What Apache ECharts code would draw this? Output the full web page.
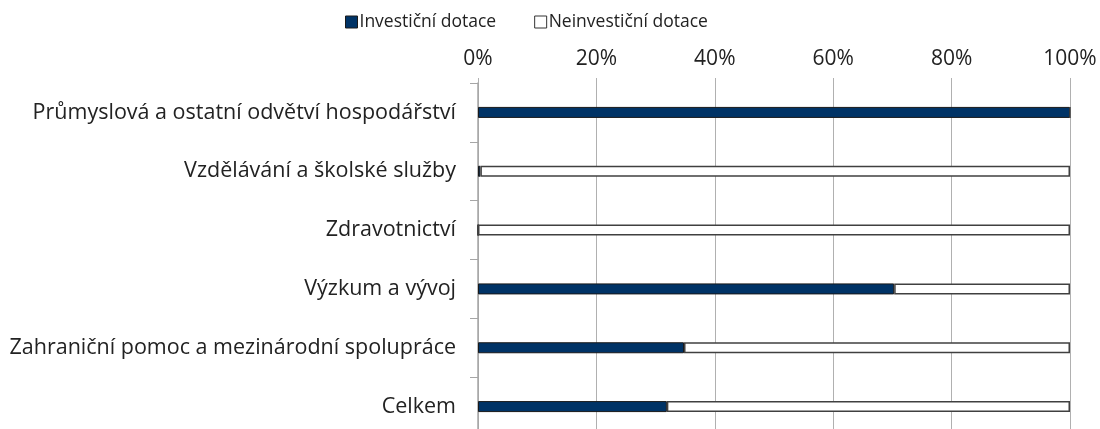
<!DOCTYPE html>
<html>
<head>
<meta charset="utf-8">
<script src="https://cdn.jsdelivr.net/npm/echarts@6/dist/echarts.min.js"></script>
<style>
  html, body { margin: 0; padding: 0; background: #fff; }
  #chart { width: 1100px; height: 429px; }
</style>
</head>
<body>
<div id="chart"></div>
<script>
const categories = [
  "Průmyslová a ostatní odvětví hospodářství",
  "Vzdělávání a školské služby",
  "Zdravotnictví",
  "Výzkum a vývoj",
  "Zahraniční pomoc a mezinárodní spolupráce",
  "Celkem"
];
const investicni = [100, 0.4, 0, 70.3, 34.8, 31.9];
const neinvesticni = [0, 99.6, 100, 29.7, 65.2, 68.1];

const font = "'Open Sans', sans-serif";
const chart = echarts.init(document.getElementById("chart"));

chart.setOption({
  animation: false,
  textStyle: { fontFamily: font },
  legend: {
    left: 340,
    top: 8,
    itemWidth: 12,
    itemHeight: 12,
    itemGap: 38,
    icon: "rect",
    textStyle: { fontSize: 17.5, color: "#222", fontFamily: font, padding: [0, 0, 0, -3] },
    data: [
      { name: "Investiční dotace", itemStyle: { color: "#003366", borderColor: "#1a1a1a", borderWidth: 1 } },
      { name: "Neinvestiční dotace", itemStyle: { color: "#fff", borderColor: "#333", borderWidth: 1 } }
    ]
  },
  grid: { left: 478, right: 30, top: 83, height: 353, outerBoundsMode: "none", containLabel: false },
  xAxis: {
    type: "value",
    position: "top",
    min: 0,
    max: 100,
    interval: 20,
    axisLabel: { formatter: "{value}%", fontSize: 21, color: "#222", margin: 13 },
    axisLine: { show: false },
    axisTick: { show: true, length: 5, lineStyle: { color: "#b0b0b0" } },
    splitLine: { show: true, lineStyle: { color: "#b0b0b0", width: 1 } }
  },
  yAxis: {
    type: "category",
    inverse: true,
    data: categories,
    axisLine: { show: true, lineStyle: { color: "#a6a6a6", width: 1.5 } },
    axisTick: { show: true, length: 8, lineStyle: { color: "#a6a6a6" } },
    axisLabel: { fontSize: 21.5, color: "#222", margin: 22 }
  },
  series: [
    {
      name: "Investiční dotace",
      type: "bar",
      stack: "a",
      barWidth: 11,
      itemStyle: { color: "#003366", borderColor: "#1a1a1a", borderWidth: 1 },
      data: investicni
    },
    {
      name: "Neinvestiční dotace",
      type: "bar",
      stack: "a",
      barWidth: 11,
      itemStyle: { color: "#fff", borderColor: "#404040", borderWidth: 1.5 },
      data: neinvesticni
    }
  ]
});
</script>
</body>
</html>
